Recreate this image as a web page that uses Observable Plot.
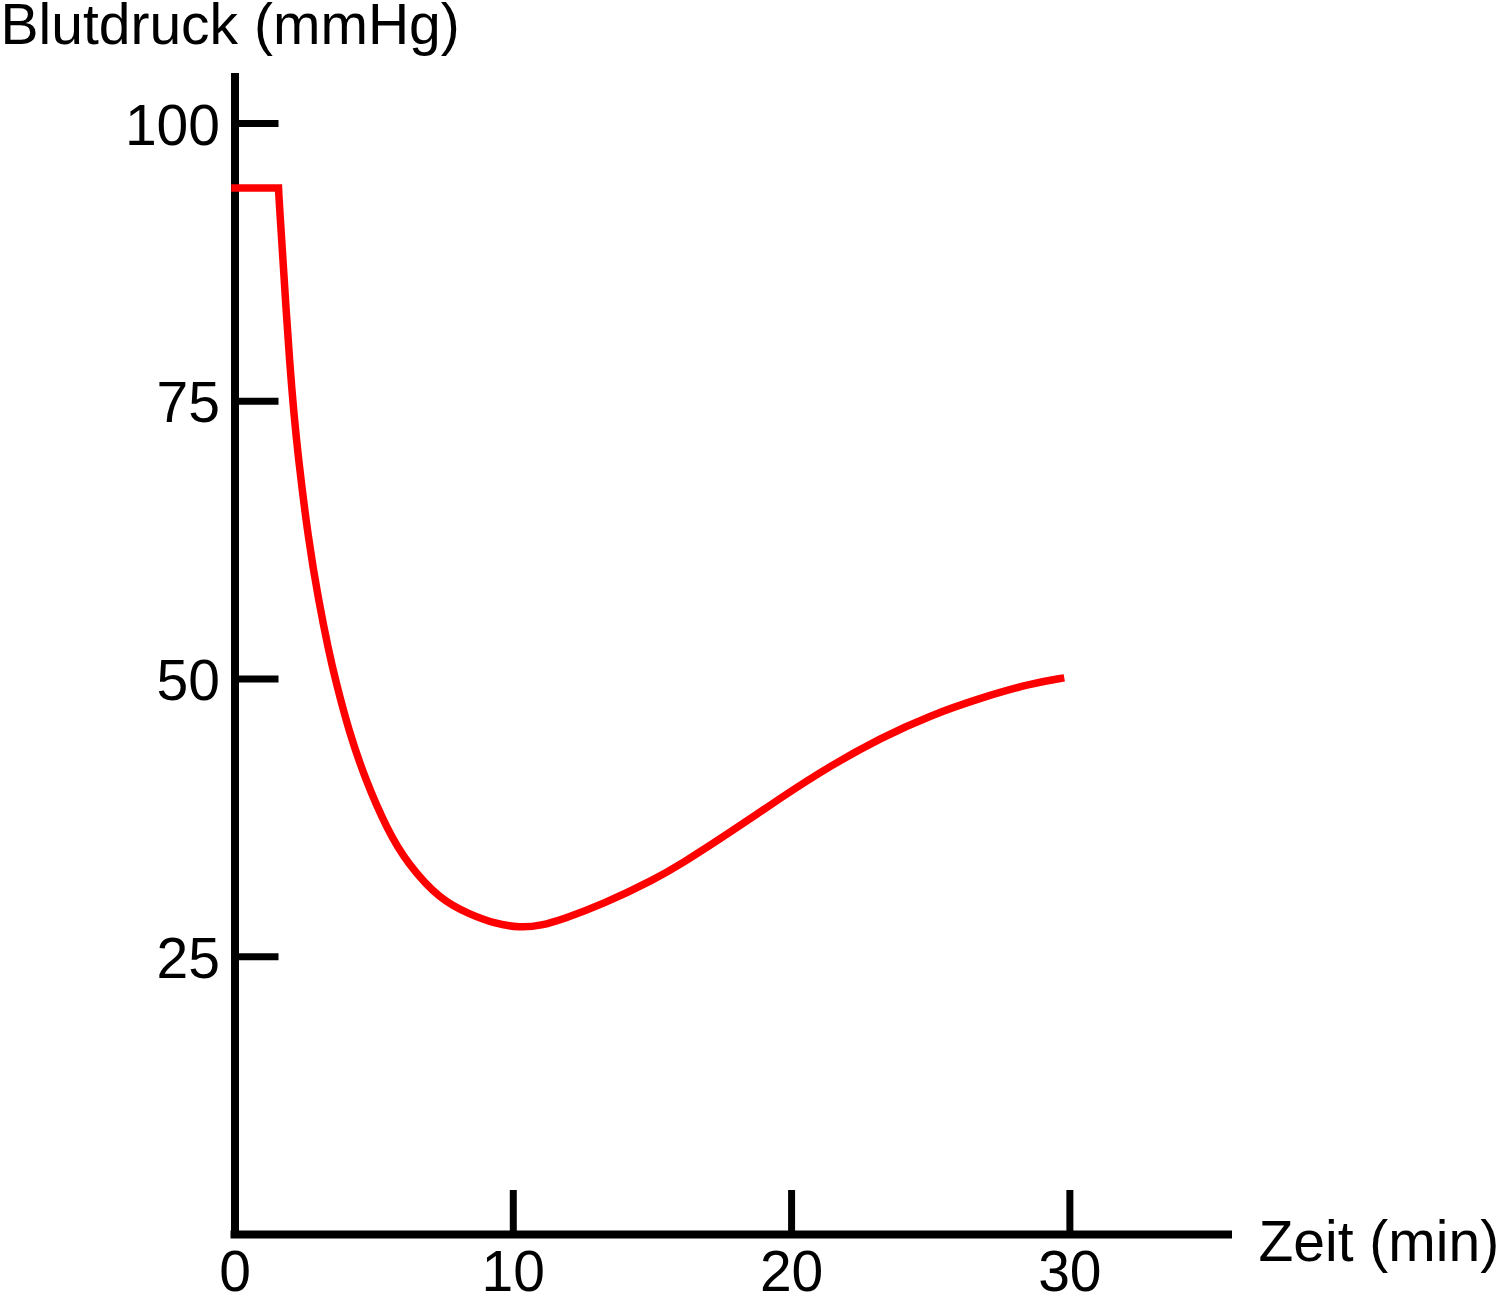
<!DOCTYPE html>
<html>
<head>
<meta charset="utf-8">
<script src="https://cdn.jsdelivr.net/npm/d3@7"></script>
<script src="https://cdn.jsdelivr.net/npm/@observablehq/plot@0.6"></script>
<style>
  html, body { margin: 0; padding: 0; background: #fff; }
  svg { display: block; font-family: "Liberation Sans", Arial, sans-serif; }
</style>
</head>
<body>
<div id="chart"></div>
<script>
// Data
const plateauTime = [0, 1.56];
const plateauPressure = [94.2, 94.2];
const dropTime = [1.56, 1.99, 2.28, 2.64, 3.0, 3.36, 3.61, 4.08, 4.69, 5.48, 6.19, 7.38, 8.46, 9.3, 10.25, 11.0, 11.8, 13.2, 15.1, 16.0, 17.8, 19.6, 21.4, 23.2, 24.96, 26.8, 28.6, 29.8];
const dropPressure = [94.2, 76.9, 69.7, 62.5, 57.1, 52.6, 49.9, 45.4, 40.9, 36.4, 33.4, 30.1, 28.8, 28.0, 27.6, 27.8, 28.4, 29.7, 32.0, 33.3, 36.2, 39.3, 42.2, 44.7, 46.7, 48.3, 49.6, 50.1];
const xTicks = [10, 20, 30];
const xTickLabels = [0, 10, 20, 30];
const yTicks = [25, 50, 75, 100];
const xLabel = "Zeit (min)";
const yLabel = "Blutdruck (mmHg)";

const plateau = plateauTime.map((t, i) => ({t, p: plateauPressure[i]}));
const drop = dropTime.map((t, i) => ({t, p: dropPressure[i]}));

const font = "'Liberation Sans', Arial, sans-serif";

const chart = Plot.plot({
  width: 1500,
  height: 1295,
  marginLeft: 234.5,
  marginRight: 272,
  marginTop: 73,
  marginBottom: 61,
  style: {fontFamily: font, background: "#fff", color: "#000"},
  x: {domain: [0, 35.7]},
  y: {domain: [0, 104.5]},
  marks: [
    // axis lines
    Plot.ruleY([0], {stroke: "#000", strokeWidth: 8, strokeLinecap: "square"}),
    Plot.ruleX([0], {stroke: "#000", strokeWidth: 8}),
    // tick marks (inward)
    Plot.axisX(xTicks, {tickSize: -44, strokeWidth: 7, stroke: "#000", tickFormat: () => "", label: null}),
    Plot.axisY(yTicks, {tickSize: -44, strokeWidth: 7, stroke: "#000", tickFormat: () => "", label: null}),
    // tick labels
    Plot.axisX(xTickLabels, {tickSize: 0, tickPadding: 16, fontSize: 57, fill: "#000", label: null}),
    Plot.axisY(yTicks, {tickSize: 0, tickPadding: 15, dy: 3, fontSize: 57, fill: "#000", label: null}),
    // data
    Plot.line(plateau, {x: "t", y: "p", stroke: "#ff0000", strokeWidth: 7.5, strokeLinecap: "square", strokeLinejoin: "miter"}),
    Plot.line(drop, {x: "t", y: "p", stroke: "#ff0000", strokeWidth: 7.5, curve: "basis", strokeLinecap: "butt"}),
    // axis titles
    Plot.text([yLabel], {frameAnchor: "top-left", dx: -234.5, dy: -70, lineAnchor: "top", textAnchor: "start", fontSize: 57, fill: "#000"}),
    Plot.text([xLabel], {frameAnchor: "bottom-right", dx: 30, dy: 8, lineAnchor: "middle", textAnchor: "start", fontSize: 57, fill: "#000"})
  ]
});
document.getElementById("chart").appendChild(chart);
</script>
</body>
</html>
